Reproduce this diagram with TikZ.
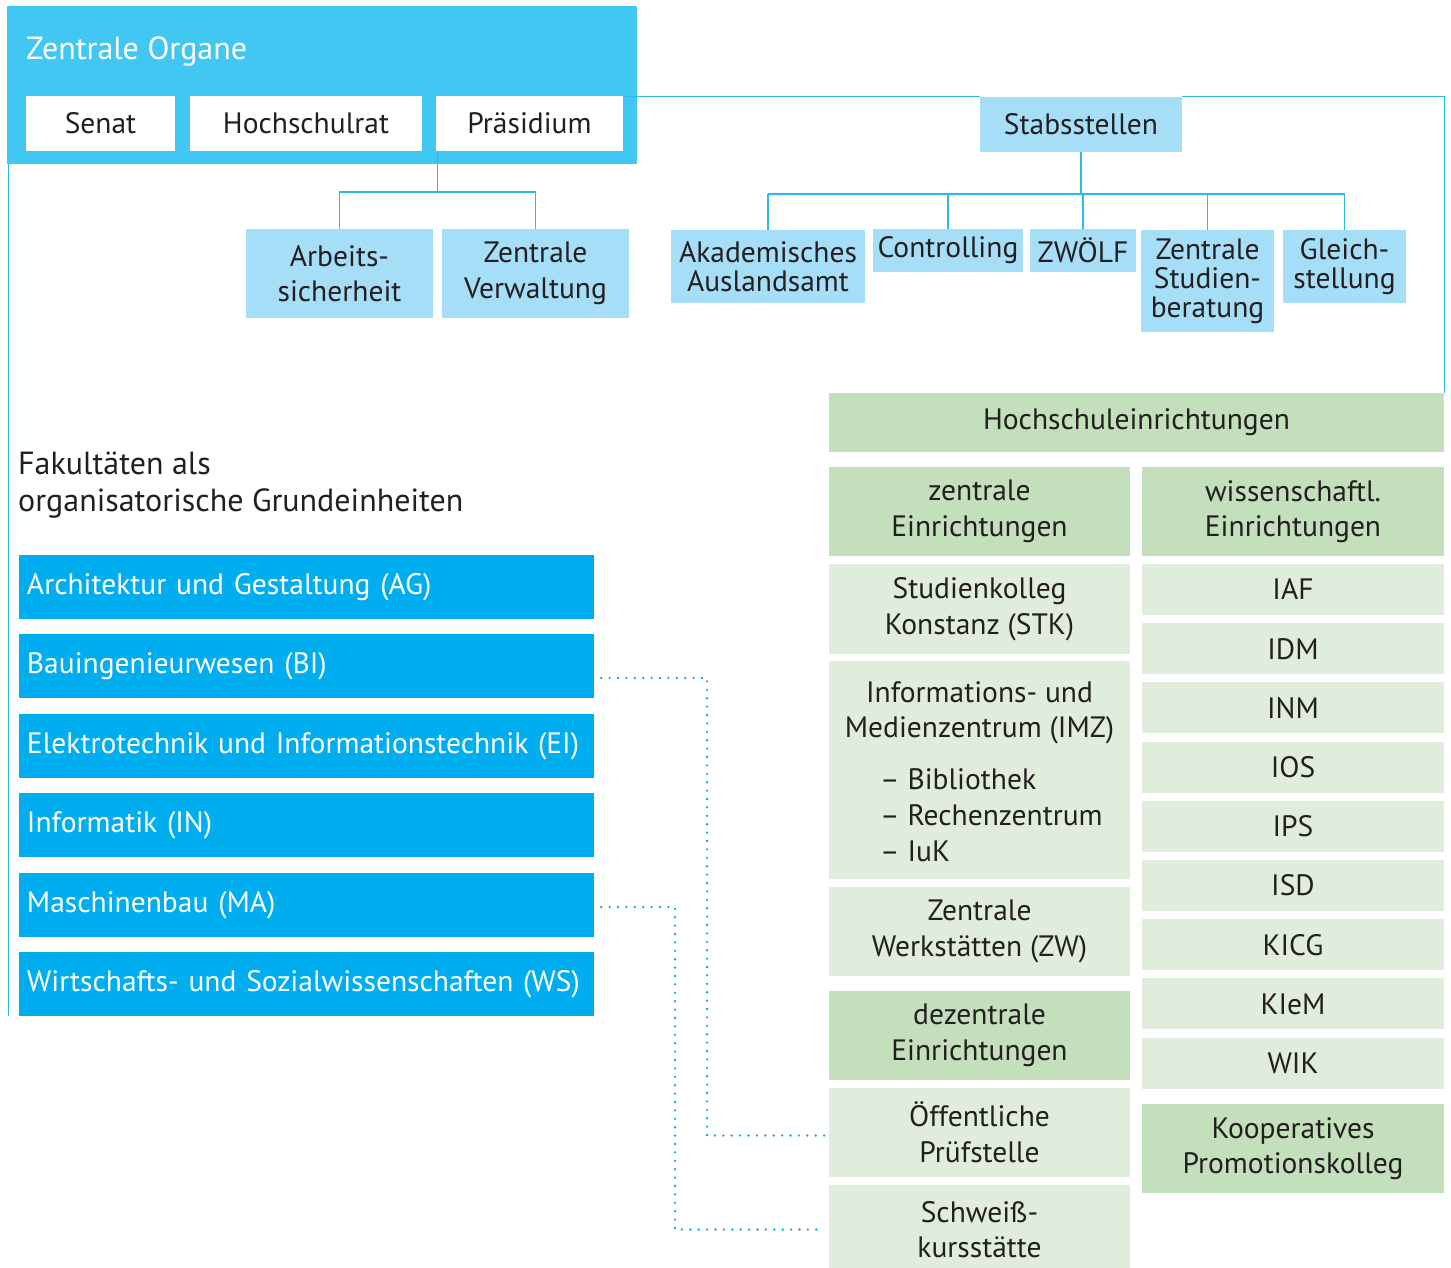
\documentclass[tikz,border=0pt]{standalone}
\usepackage{fontspec}
\setmainfont{PT Sans}
\usetikzlibrary{positioning}

\definecolor{organblue}{HTML}{42C7F3}
\definecolor{stabblue}{HTML}{A6DEF7}
\definecolor{fakblue}{HTML}{00AEEF}
\definecolor{linkblue}{HTML}{2DB9EC}
\definecolor{einrgreen}{HTML}{C3DFBB}
\definecolor{einrlight}{HTML}{E1EDDC}
\definecolor{txtdark}{HTML}{231F20}

\tikzset{
  box/.style={inner sep=0pt, align=center, text=txtdark, font=\fontsize{29.5}{35.5}\selectfont},
  organ/.style={box, fill=white, minimum height=55pt},
  stab/.style={box, fill=stabblue},
  stabkind/.style={stab, font=\fontsize{29.5}{29}\selectfont},
  fak/.style={box, fill=fakblue, text=white, align=left, inner xsep=8pt, text width=559pt, minimum height=64pt},
  einr/.style={box, fill=einrgreen, minimum width=301pt, minimum height=89pt},
  einrl/.style={box, fill=einrlight, minimum width=301pt},
  conn/.style={draw=linkblue, line width=1.2pt},
  dots/.style={draw=fakblue, line width=2.6pt, dash pattern=on 0pt off 8.4pt, line cap=round}
}

\begin{document}
\begin{tikzpicture}[x=1pt,y=-1pt]
\useasboundingbox (0,0) rectangle (1451,1267);
\clip (0,0) rectangle (1451,1267);

% Zentrale Organe
\node[box, fill=organblue, minimum width=630pt, minimum height=158pt] (organe) at (322,85) {};
\node[box, text=white, anchor=west, font=\fontsize{32}{38}\selectfont] (organetitel) at (26,51) {Zentrale Organe};
\node[organ, minimum width=149pt] (senat) at (100.5,123.5) {Senat};
\node[organ, minimum width=232pt] (hrat) at (306,123.5) {Hochschulrat};
\node[organ, minimum width=187pt] (praes) at (529.5,123.5) {Präsidium};

\node[stab, minimum width=187pt, minimum height=89pt] (arbsi) at (339.5,273.5) {Arbeits-\\sicherheit};
\node[stab, minimum width=187pt, minimum height=89pt] (zverw) at (535.5,273.5) {Zentrale\\Verwaltung};

% Stabsstellen
\node[stab, minimum width=202pt, minimum height=55pt] (stabs) at (1081,124.5) {Stabsstellen};
\node[stabkind, minimum width=194pt, minimum height=73pt] (akad) at (768,266.5) {Akademisches\\Auslandsamt};
\node[stabkind, minimum width=150pt, minimum height=43pt] (contr) at (948,250.5) {Controlling};
\node[stabkind, minimum width=106pt, minimum height=43pt] (zwoelf) at (1083,250.5) {ZWÖLF};
\node[stabkind, minimum width=133pt, minimum height=102pt] (zsb) at (1207.5,281) {Zentrale\\Studien-\\beratung};
\node[stabkind, minimum width=123pt, minimum height=73pt] (gleich) at (1344.5,266.5) {Gleich-\\stellung};

% Fakultaeten
\node[box, anchor=north west, align=left, font=\fontsize{32}{37}\selectfont] (fakultaeten) at (18,452) {Fakultäten als\\organisatorische Grundeinheiten};
\node[fak] (fakAG) at (306.5,587) {Architektur und Gestaltung (AG)};
\node[fak] (fakBI) at (306.5,666) {Bauingenieurwesen (BI)};
\node[fak] (fakEI) at (306.5,746) {Elektrotechnik und Informationstechnik (EI)};
\node[fak] (fakIN) at (306.5,825) {Informatik (IN)};
\node[fak] (fakMA) at (306.5,905) {Maschinenbau (MA)};
\node[fak] (fakWS) at (306.5,984) {Wirtschafts- und Sozialwissenschaften (WS)};

% Hochschuleinrichtungen
\node[einr, minimum width=615pt, minimum height=59pt] (hse) at (1136.5,422.5) {Hochschuleinrichtungen};
\node[einr] (zentr) at (979.5,511.5) {zentrale\\Einrichtungen};
\node[einr, minimum width=302pt] (wiss) at (1293,511.5) {wissenschaftl.\\Einrichtungen};
\node[einrl, minimum height=90pt] (stk) at (979.5,609) {Studienkolleg\\Konstanz (STK)};
\node[einrl, minimum height=218pt] (imz) at (979.5,770) {};
\node[box] (imztitel) at (979.5,713) {Informations- und\\Medienzentrum (IMZ)};
\node[box, anchor=west, align=left, font=\fontsize{29.5}{36}\selectfont] (imzliste) at (880,815) {– Bibliothek\\– Rechenzentrum\\– IuK};
\node[einrl, minimum height=89pt] (zw) at (979.5,931.5) {Zentrale\\Werkstätten (ZW)};
\node[einr] (dezentr) at (979.5,1035.5) {dezentrale\\Einrichtungen};
\node[einrl, minimum height=89pt] (oeff) at (979.5,1132.5) {Öffentliche\\Prüfstelle};
\node[einrl, minimum height=89pt] (schweiss) at (979.5,1229.5) {Schweiß-\\kursstätte};

\foreach \name/\lbl [count=\i from 0] in {iaf/IAF, idm/IDM, inm/INM, ios/IOS, ips/IPS, isd/ISD, kicg/KICG, kiem/KIeM, wik/WIK}
  \node[einrl, minimum width=302pt, minimum height=51pt] (\name) at (1293,589.5+59.2*\i) {\lbl};
\node[einr, minimum width=302pt] (promo) at (1293,1148.5) {Kooperatives\\Promotionskolleg};

% Verbindungen
\coordinate (pknick) at (437.5,192);
\coordinate (sknick) at (1081,194);
\draw[conn] (pknick |- praes.south) -- (pknick);
\draw[conn] (arbsi.north) |- (pknick) -| (zverw.north);
\draw[conn] (stabs.south) -- (sknick);
\draw[conn] (akad.north |- sknick) -- (gleich.north |- sknick);
\foreach \n in {akad,contr,zwoelf,zsb,gleich}
  \draw[conn] (\n.north) -- (\n.north |- sknick);
\draw[conn] ([yshift=-1pt]praes.north east) -- (stabs.north west);
\draw[conn] (stabs.north east) -| (hse.north east);
\draw[conn] ([xshift=2pt]organe.south west) -- ([xshift=2pt]organe.south west |- fakWS.south);

\coordinate (dotA) at (707,678);
\coordinate (dotB) at (675,907);
\draw[dots] ([xshift=7pt]fakBI.east |- dotA) -- (dotA) |- ([yshift=-3pt]oeff.west);
\draw[dots] ([xshift=7pt]fakMA.east |- dotB) -- (dotB) |- ([xshift=-5pt]schweiss.west);
\end{tikzpicture}
\end{document}
